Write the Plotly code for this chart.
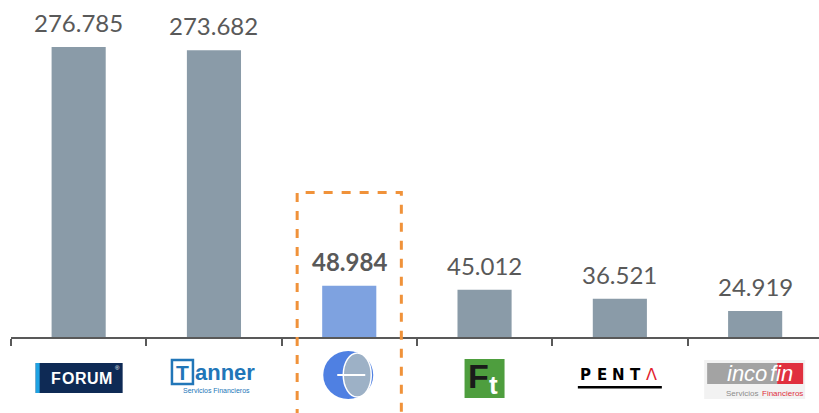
import plotly.graph_objects as go

# ---- data ----
companies = ["Forum", "Tanner", "Highlighted", "Ft", "Penta", "Incofin"]
values = [276785, 273682, 48984, 45012, 36521, 24919]
highlight_index = 2

BAR_GRAY = "#8A9BA8"
BAR_BLUE = "#7EA2E0"
ORANGE = "#F0923A"
TXT = "#595959"

W, H = 819, 413
L = 11
PLOT_BOTTOM = 337
CAT_W = 135.3
xmin = -0.5
xmax = xmin + (W - L) / CAT_W
px_per_unit = 1.048 / 1000
ymax = PLOT_BOTTOM / px_per_unit

def px_x(p):
    return (p - L) / (W - L)

def px_y(p):
    return (PLOT_BOTTOM - p) / PLOT_BOTTOM

def cat_px(i):
    return L + (i - xmin) * CAT_W

x = list(range(len(companies)))
colors = [BAR_BLUE if i == highlight_index else BAR_GRAY for i in x]

fig = go.Figure()
fig.add_trace(go.Bar(x=x, y=values, marker=dict(color=colors, line=dict(width=0)),
                     width=0.4, hoverinfo="skip"))

annotations = []
shapes = []

for i, v in zip(x, values):
    label = f"{v:,}".replace(",", ".")
    if i == highlight_index:
        label = f"<b>{label}</b>"
    annotations.append(dict(x=i, y=v, xref="x", yref="y", text=label, showarrow=False,
                            yanchor="bottom", yshift=8,
                            font=dict(family="Lato, DejaVu Sans", size=24, color=TXT)))

# dashed highlight box
hb_top = 138000
shapes.append(dict(type="rect", xref="x", yref="paper",
                   x0=highlight_index - 0.385, x1=highlight_index + 0.385,
                   y0=-0.5, y1=hb_top / ymax,
                   line=dict(color=ORANGE, width=3, dash="dash"), layer="above"))

def rect(x0, y0, x1, y1, fill, line=None, lw=0):
    shapes.append(dict(type="rect", xref="paper", yref="paper",
                       x0=px_x(x0), x1=px_x(x1), y0=px_y(y1), y1=px_y(y0),
                       fillcolor=fill, line=dict(color=line or fill, width=lw)))

def text(px, py, t, size, color, family="Arial, Liberation Sans", xanchor="center", bold=False, italic=False):
    if bold:
        t = f"<b>{t}</b>"
    if italic:
        t = f"<i>{t}</i>"
    annotations.append(dict(x=px_x(px), y=px_y(py), xref="paper", yref="paper", text=t,
                            showarrow=False, xanchor=xanchor, yanchor="middle",
                            font=dict(family=family, size=size, color=color)))

# ---- logos (decorative) ----
# Forum
c = cat_px(0)
rect(c - 43, 363, c + 44, 393, "#0E2A55")
rect(c - 43, 363, c - 39, 393, "#1FA3E3")
for k, ch in enumerate("FORUM"):
    text(c - 23 + k * 12.5, 378, ch, 16, "white", bold=True)
text(c + 39, 368, "®", 6, "white")

# Tanner
c = cat_px(1)
shapes.append(dict(type="rect", xref="paper", yref="paper",
                   x0=px_x(c - 42), x1=px_x(c - 21), y0=px_y(384), y1=px_y(360),
                   line=dict(color="#2176B8", width=2.5), fillcolor="rgba(0,0,0,0)"))
text(c - 31.5, 372, "T", 21, "#2176B8", bold=True)
text(c - 21, 372, "anner", 22, "#2176B8", xanchor="left", bold=True)
text(c + 3, 390, "Servicios Financieros", 7, "#2176B8")

# highlighted company logo (circle)
c = cat_px(2)
cy = 375
shapes.append(dict(type="circle", xref="paper", yref="paper",
                   x0=px_x(c - 26), x1=px_x(c + 24), y0=px_y(cy + 24), y1=px_y(cy - 24),
                   fillcolor="#4F80E2", line=dict(color="#4F80E2", width=0)))
shapes.append(dict(type="circle", xref="paper", yref="paper",
                   x0=px_x(c - 6), x1=px_x(c + 22), y0=px_y(cy + 22), y1=px_y(cy - 22),
                   fillcolor="#9DB1C6", line=dict(color="white", width=1.5)))
shapes.append(dict(type="line", xref="paper", yref="paper",
                   x0=px_x(c - 12), x1=px_x(c + 16), y0=px_y(cy), y1=px_y(cy),
                   line=dict(color="white", width=2)))

# Ft
c = cat_px(3)
rect(c - 20, 359, c + 20, 398, "#4E9E3E")
text(c - 6, 376, "F", 34, "#1A1A1A", bold=True)
text(c + 9, 385, "t", 26, "white", bold=True)

# Penta
c = cat_px(4)
for k, ch in enumerate("PENT"):
    text(c - 34 + k * 16.4, 375, ch, 15, "black", bold=True, family="DejaVu Sans")
text(c - 34 + 4 * 16.4, 375, "Λ", 16, "#E2222E", family="DejaVu Sans")
rect(c - 42, 386, c + 42, 388.5, "black")

# Incofin
c = cat_px(5)
rect(c - 51, 360, c + 50, 399, "#F2F2F2")
rect(c - 48, 363, c + 22, 384, "#A3A3A3")
rect(c + 22, 363, c + 48, 384, "#E0303E")
text(c + 14, 373.5, "inco", 22, "white", italic=True, xanchor="right")
text(c + 13, 373.5, "fin", 22, "white", italic=True, xanchor="left")
text(c + 5, 393, "Servicios", 8, "#8C8C8C", xanchor="right")
text(c + 5, 393, "Financieros", 8, "#E0303E", xanchor="left")

fig.update_layout(
    width=W, height=H,
    margin=dict(l=L, r=0, t=0, b=H - PLOT_BOTTOM),
    plot_bgcolor="white", paper_bgcolor="white",
    showlegend=False,
    xaxis=dict(range=[xmin, xmax], showgrid=False, zeroline=False,
               showline=True, linecolor=TXT, linewidth=2,
               tickmode="array", tickvals=[i - 0.5 for i in x], ticktext=["" for _ in x],
               ticks="outside", ticklen=7, tickwidth=2, tickcolor=TXT),
    yaxis=dict(range=[0, ymax], visible=False, showgrid=False, zeroline=False),
    annotations=annotations,
    shapes=shapes,
    bargap=0.6,
)

fig.write_html("out.html", config={"displayModeBar": False},
               post_script="document.body.style.margin='0';document.body.style.overflow='hidden';")
